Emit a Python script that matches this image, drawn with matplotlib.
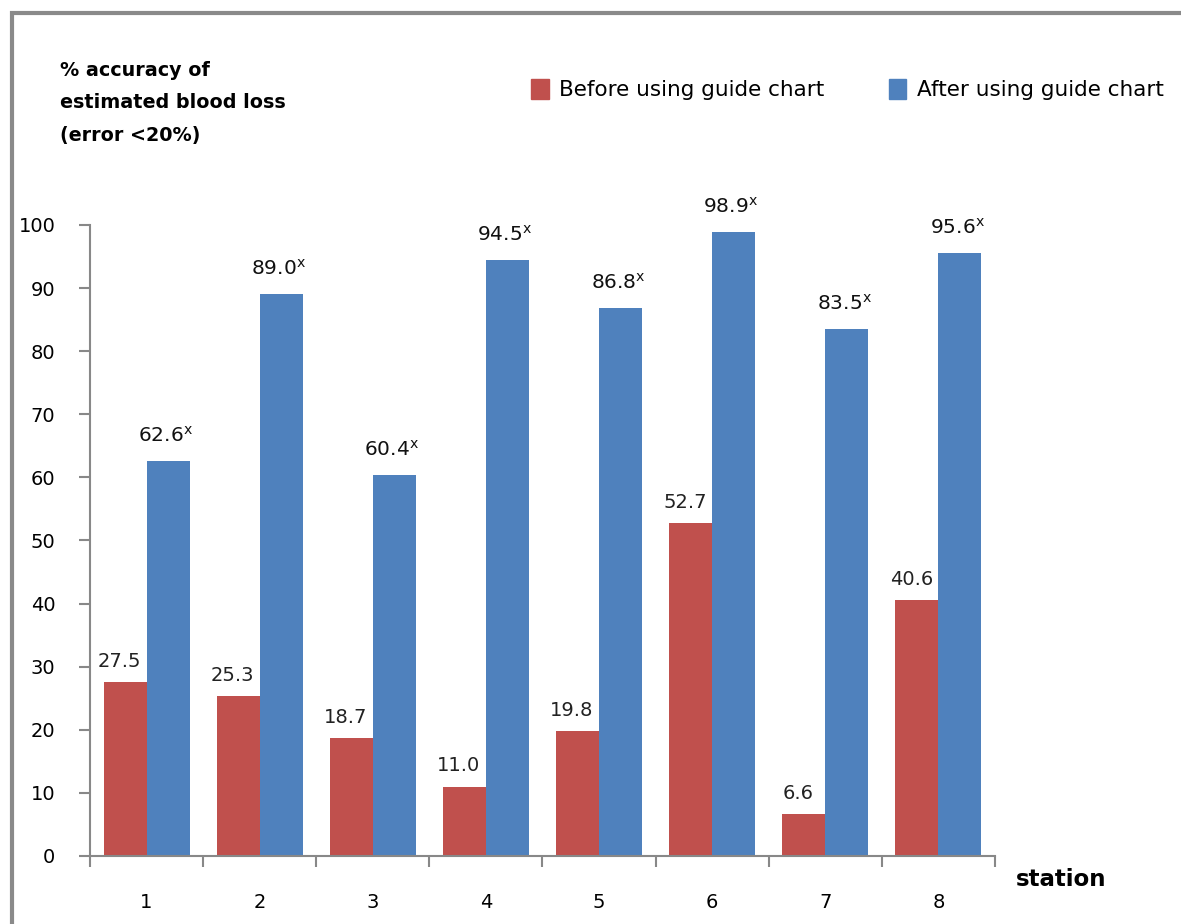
import matplotlib.pyplot as plt
import matplotlib.patches as mpatches
import numpy as np

stations = ["1", "2", "3", "4", "5", "6", "7", "8"]
before = [27.5, 25.3, 18.7, 11.0, 19.8, 52.7, 6.6, 40.6]
after = [62.6, 89.0, 60.4, 94.5, 86.8, 98.9, 83.5, 95.6]

red = "#C0504D"
blue = "#4F81BD"

fig = plt.figure(figsize=(11.81, 9.24), dpi=100)
ax = fig.add_axes([0.0762, 0.0736, 0.7663, 0.683])

x = np.arange(len(stations))
w = 0.38
ax.bar(x - w / 2, before, w, color=red, label="Before using guide chart")
ax.bar(x + w / 2, after, w, color=blue, label="After using guide chart")

# value labels
for xi, v in zip(x, before):
    ax.annotate(f"{v:.1f}", (xi - w / 2, v), xytext=(-4, 8), textcoords="offset points",
                ha="center", va="bottom", fontsize=14, color="#222222")
for xi, v in zip(x, after):
    ax.annotate(f"{v:.1f}$^{{\\mathsf{{x}}}}$", (xi + w / 2, v), xytext=(-2, 11),
                textcoords="offset points", ha="center", va="bottom", fontsize=14.5,
                color="#111111")

ax.set_xlim(-0.5, len(stations) - 0.5)
ax.set_ylim(0, 100)
ax.set_yticks(np.arange(0, 101, 10))
ax.set_xticks(np.arange(-0.5, len(stations), 1))
ax.set_xticklabels([])
ax.set_xticks(x, minor=True)
ax.set_xticklabels(stations, minor=True)
ax.tick_params(axis="x", which="major", length=8, color="#888888", width=1.5)
ax.tick_params(axis="x", which="minor", length=0, pad=27, labelsize=14)
ax.tick_params(axis="y", length=8, color="#888888", width=1.5, labelsize=14, pad=17)

for s in ["top", "right"]:
    ax.spines[s].set_visible(False)
for s in ["left", "bottom"]:
    ax.spines[s].set_color("#888888")
    ax.spines[s].set_linewidth(1.5)

fig.text(0.0508, 0.934, "% accuracy of\nestimated blood loss\n(error <20%)",
         fontsize=13.8, fontweight="bold", va="top", ha="left", linespacing=1.9)
fig.text(0.860, 0.048, "station", fontsize=16.5, fontweight="bold", ha="left", va="center")

handles = [mpatches.Patch(color=red), mpatches.Patch(color=blue)]
fig.legend(handles, ["Before using guide chart", "After using guide chart"],
           loc="center right", bbox_to_anchor=(1.002, 0.903), ncol=2, frameon=False,
           fontsize=15.5, handlelength=0.8, handleheight=1.1, columnspacing=3.0,
           handletextpad=0.5)

# outer border
fig.patches.append(mpatches.Rectangle((12 / 1181, -0.1), 1.2, 0.1 + (924 - 13) / 924,
                                      transform=fig.transFigure, fill=False,
                                      edgecolor="#8a8a8a", linewidth=3))

fig.savefig("out.png", dpi=100)
